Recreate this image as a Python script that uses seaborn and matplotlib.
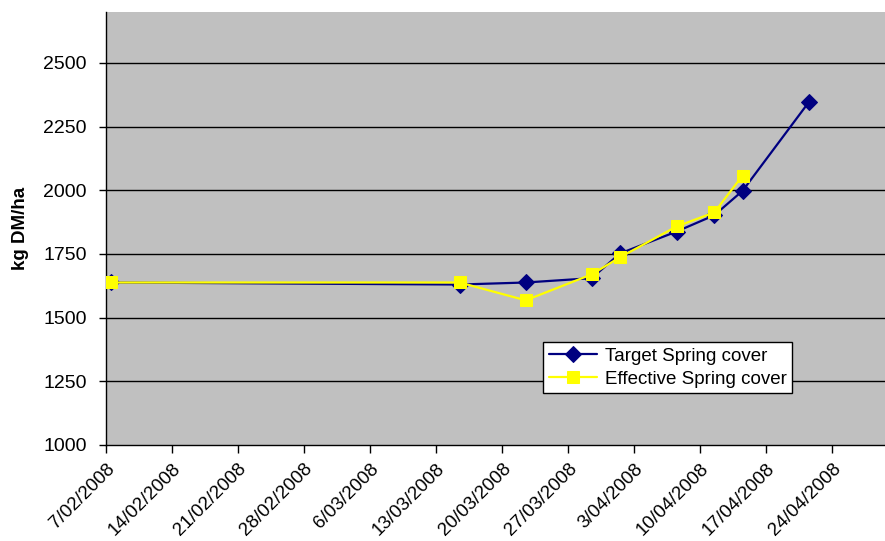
import matplotlib
matplotlib.use("Agg")
import matplotlib.pyplot as plt
import seaborn as sns
import pandas as pd

# ---- data ----
target_dates = ["2008-02-07", "2008-03-15", "2008-03-22", "2008-03-29", "2008-04-01",
                "2008-04-07", "2008-04-11", "2008-04-14", "2008-04-21"]
target_values = [1638, 1630, 1638, 1655, 1752, 1838, 1902, 1998, 2345]

effective_dates = ["2008-02-07", "2008-03-15", "2008-03-22", "2008-03-29", "2008-04-01",
                   "2008-04-07", "2008-04-11", "2008-04-14"]
effective_values = [1638, 1638, 1568, 1670, 1737, 1858, 1913, 2058]

tick_dates = ["2008-02-07", "2008-02-14", "2008-02-21", "2008-02-28", "2008-03-06",
              "2008-03-13", "2008-03-20", "2008-03-27", "2008-04-03", "2008-04-10",
              "2008-04-17", "2008-04-24"]
tick_labels = ["7/02/2008", "14/02/2008", "21/02/2008", "28/02/2008", "6/03/2008",
               "13/03/2008", "20/03/2008", "27/03/2008", "3/04/2008", "10/04/2008",
               "17/04/2008", "24/04/2008"]
y_ticks = [1000, 1250, 1500, 1750, 2000, 2250, 2500]

sns.set_theme(style="white")
plt.rcParams["font.family"] = ["Liberation Sans", "DejaVu Sans"]
plt.rcParams["text.color"] = "black"
plt.rcParams["xtick.color"] = "black"
plt.rcParams["ytick.color"] = "black"
plt.rcParams["axes.labelcolor"] = "black"

half_day = pd.Timedelta(hours=12)
df_t = pd.DataFrame({"date": pd.to_datetime(target_dates) + half_day, "value": target_values})
df_e = pd.DataFrame({"date": pd.to_datetime(effective_dates) + half_day, "value": effective_values})

fig = plt.figure(figsize=(8.85, 5.41), dpi=100)
ax = fig.add_axes([106 / 885, 1 - 445 / 541, 1 - 106 / 885, (445 - 12) / 541])
ax.set_facecolor("#C0C0C0")

for y in y_ticks[1:]:
    ax.axhline(y, color="black", lw=1.0, zorder=1)

sns.lineplot(data=df_t, x="date", y="value", ax=ax, color="#000080", lw=1.6,
             marker="D", markersize=8, markeredgecolor="#000080",
             label="Target Spring cover", zorder=3)
sns.lineplot(data=df_e, x="date", y="value", ax=ax, color="#FFFF00", lw=1.6,
             marker="s", markersize=8, markeredgecolor="#FFFF00",
             label="Effective Spring cover", zorder=4)

start = pd.Timestamp("2008-02-07")
ax.set_xlim(start, start + pd.Timedelta(days=82.6))
ax.set_ylim(1000, 2700)

ax.set_xticks(pd.to_datetime(tick_dates))
ax.set_xticklabels(tick_labels, rotation=45, ha="right", rotation_mode="anchor", fontsize=13.5)
ax.set_yticks(y_ticks)
ax.set_yticklabels([str(v) for v in y_ticks], fontsize=14)

ax.tick_params(axis="x", bottom=True, direction="out", length=6, width=1, color="black", pad=5)
ax.tick_params(axis="y", left=True, direction="out", length=5, width=1, color="black", pad=9)

for s in ["top", "right"]:
    ax.spines[s].set_visible(False)
for s in ["left", "bottom"]:
    ax.spines[s].set_color("black")
    ax.spines[s].set_linewidth(1.0)

ax.set_xlabel("")
ax.set_ylabel("kg DM/ha", fontsize=13.5, fontweight="bold")
ax.yaxis.set_label_coords(-0.099, 0.5)

leg = ax.legend(loc="upper left", bbox_to_anchor=((543 - 106) / 779, 1 - (342 - 12) / 433),
                frameon=True, fancybox=False, fontsize=13.5, borderpad=0.3,
                labelspacing=0.3, handlelength=2.6, handletextpad=0.4, borderaxespad=0)
leg.get_frame().set_edgecolor("black")
leg.get_frame().set_facecolor("white")
leg.get_frame().set_alpha(1)
leg.get_frame().set_linewidth(1.0)

fig.savefig("out.png", dpi=100)
